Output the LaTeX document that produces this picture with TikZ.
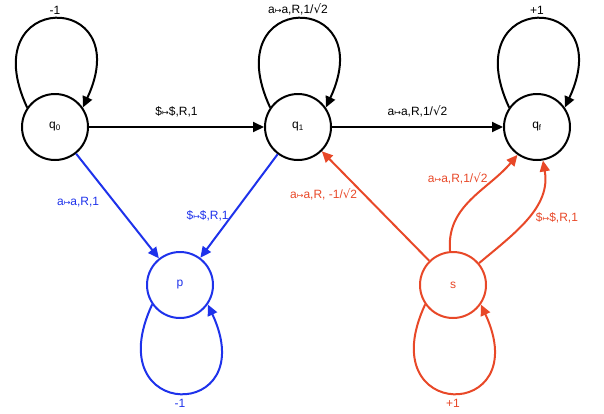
\documentclass[tikz,border=0pt]{standalone}
\usepackage{fontspec}
\setmainfont{Liberation Sans}
\newfontfamily\dv{DejaVu Sans}
\usetikzlibrary{arrows.meta}
\definecolor{rd}{RGB}{232,72,40}
\definecolor{bl}{RGB}{30,50,235}
\newcommand{\mt}{{\dv\footnotesize ↦}}
\newcommand{\sq}{{\dv √}}
\begin{document}
\begin{tikzpicture}[x=1pt,y=-1pt,font=\fontsize{12}{14}\selectfont,
  st/.style={circle,draw,line width=2pt,minimum size=66pt,inner sep=0pt,fill=white},
  ar/.style={line width=2pt,-{Triangle[length=11pt,width=10pt]}},
  lp/.style={ar,looseness=6}]
\useasboundingbox (0,0) rectangle (604,413);
\node[st] (q0) at (55,127) {q\textsubscript{0}};
\node[st] (q1) at (298,127) {q\textsubscript{1}};
\node[st] (qf) at (537,127) {q\textsubscript{f}};
\node[st,draw=bl,text=bl] (p) at (180,285) {p};
\node[st,draw=rd,text=rd] (s) at (453,285) {s};
\draw[lp] (q0.145) to[out=115,in=65] node[above]{-1} (q0.35);
\draw[lp] (q1.145) to[out=115,in=65] node[above]{a\mt a,R,1/\sq2} (q1.35);
\draw[lp] (qf.145) to[out=115,in=65] node[above]{+1} (qf.35);
\draw[lp,bl] (p.-145) to[out=-115,in=-65] node[below,yshift=-2pt]{-1} (p.-35);
\draw[lp,rd] (s.-145) to[out=-115,in=-65] node[below,yshift=-2pt]{+1} (s.-35);
\draw[ar] (q0) -- node[above,yshift=6pt]{\$\mt\$,R,1} (q1);
\draw[ar] (q1) -- node[above,yshift=6pt]{a\mt a,R,1/\sq2} (qf);
\draw[ar,bl] (q0) -- node[left,xshift=-14pt,yshift=4pt]{a\mt a,R,1} (p);
\draw[ar,bl] (q1) -- node[left,xshift=-6pt,yshift=-10pt]{\$\mt\$,R,1} (p);
\draw[ar,rd] (s) -- node[left,xshift=-14pt,yshift=12pt]{a\mt a,R, -1/\sq2} (q1);
\draw[ar,rd] (s.95) to[out=95,in=230] node[left,pos=0.75,xshift=-2pt]{a\mt a,R,1/\sq2} (qf.-125);
\draw[ar,rd] (s.40) to[out=40,in=-80] node[right,xshift=4pt]{\$\mt\$,R,1} (qf.-80);
\end{tikzpicture}
\end{document}
